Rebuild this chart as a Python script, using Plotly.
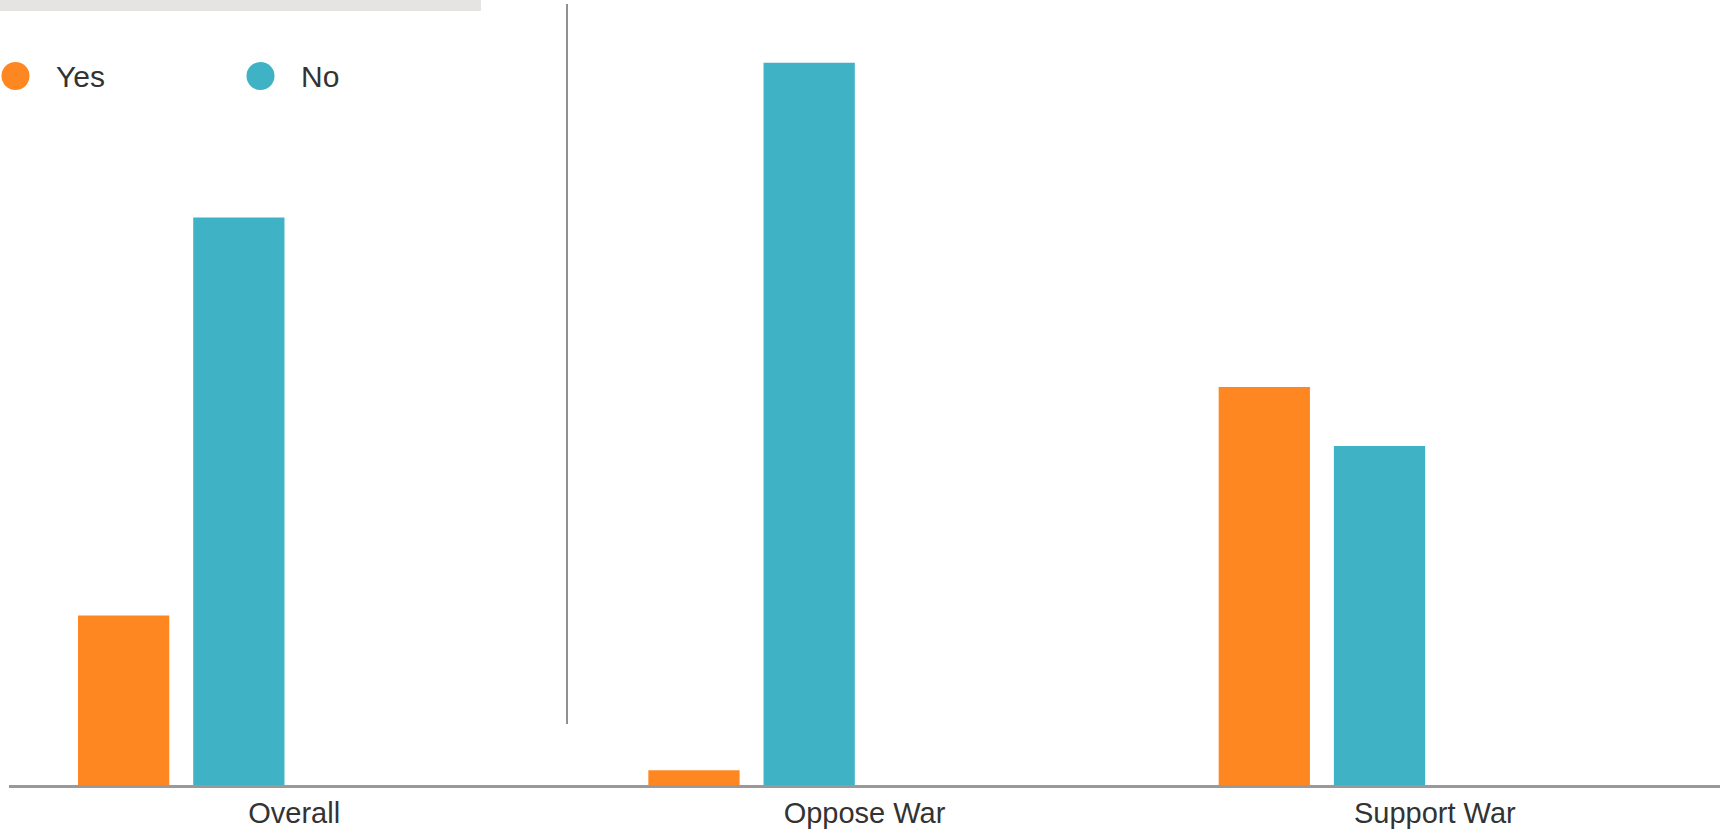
import plotly.graph_objects as go

categories = ["Overall", "Oppose War", "Support War"]
yes_values = [23, 2, 54]
no_values = [77, 98, 46]
series_names = ["Yes", "No"]
series_colors = ["#FF8722", "#3FB3C5"]

W, H = 1729, 832
ml, mr, mt, mb = 9, 9, 48, 47
plot_w = W - ml - mr
plot_h = H - mt - mb


def px_x(px):
    return (px - ml) / plot_w


def px_y(py):
    return (H - mb - py) / plot_h


fig = go.Figure()
bar_width = 0.16
offsets = [-0.379, -0.177]
for name, vals, col, off in zip(series_names, [yes_values, no_values], series_colors, offsets):
    fig.add_trace(go.Bar(
        x=categories, y=vals, name=name, marker=dict(color=col, line=dict(width=0)),
        width=bar_width, offset=off, showlegend=False,
        hovertemplate="%{x}: %{y}%<extra>" + name + "</extra>",
    ))

shapes = [
    dict(type="rect", xref="paper", yref="paper",
         x0=px_x(0), x1=px_x(481), y0=px_y(11), y1=px_y(0),
         fillcolor="#E5E4E2", line=dict(width=0), layer="below"),
    dict(type="line", xref="paper", yref="paper",
         x0=px_x(567), x1=px_x(567), y0=px_y(724), y1=px_y(4),
         line=dict(color="#222222", width=1)),
]

annotations = []
legend_cx = [15.5, 260.5]
legend_tx = [55, 300]
legend_cy = 76
r = 14
for name, col, cx, tx in zip(series_names, series_colors, legend_cx, legend_tx):
    shapes.append(dict(type="circle", xref="paper", yref="paper",
                       x0=px_x(cx - r), x1=px_x(cx + r),
                       y0=px_y(legend_cy + r), y1=px_y(legend_cy - r),
                       fillcolor=col, line=dict(width=0)))
    annotations.append(dict(xref="paper", yref="paper", x=px_x(tx), y=px_y(legend_cy),
                            xanchor="left", yanchor="middle", text=name, showarrow=False,
                            font=dict(size=30, color="#333333"), borderpad=0))

fig.update_layout(
    width=W, height=H,
    margin=dict(l=ml, r=mr, t=mt, b=mb, autoexpand=False),
    paper_bgcolor="white", plot_bgcolor="white",
    barmode="group",
    showlegend=False,
    font=dict(family="Liberation Sans, Arial, sans-serif", color="#333333", size=29),
    shapes=shapes,
    annotations=annotations,
    xaxis=dict(showgrid=False, zeroline=False, showline=True, linecolor="#999999",
               linewidth=3, ticks="", tickfont=dict(size=29, color="#333333"),
               fixedrange=True),
    yaxis=dict(range=[0, 100], showgrid=False, zeroline=False, showline=False,
               showticklabels=False, fixedrange=True),
)

fig.write_html("out.html", config={"displayModeBar": False},
               post_script="document.body.style.margin='0px';")
